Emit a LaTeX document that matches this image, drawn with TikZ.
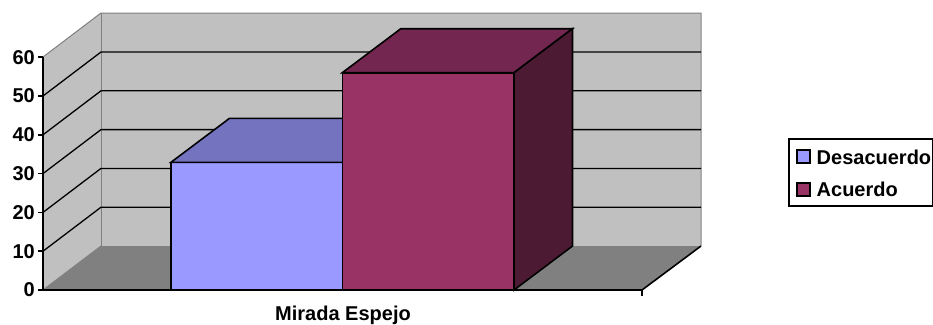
\documentclass[tikz,border=0pt]{standalone}
\usepackage{fontspec}
\setmainfont{Liberation Sans}
\usepackage{xcolor}
\usepackage{tikz}
\usetikzlibrary{positioning,calc}

\definecolor{wallgray}{HTML}{C0C0C0}
\definecolor{floorgray}{HTML}{808080}
\definecolor{desfront}{HTML}{9999FF}
\definecolor{destop}{HTML}{7373BF}
\definecolor{acufront}{HTML}{993366}
\definecolor{acutop}{HTML}{732650}
\definecolor{acuside}{HTML}{4D1A33}

\tikzset{
  lbl/.style={font=\fontsize{20}{24}\selectfont\bfseries, inner sep=0pt},
  barface/.style={draw=black, line width=1.6pt, line join=miter},
  gridline/.style={black, line width=1.3pt},
  walledge/.style={draw=floorgray, line width=1pt},
  swatch/.style={draw=black, line width=1.2pt, minimum size=13pt, inner sep=0pt}
}

\begin{document}
\begin{tikzpicture}[x=1pt, y=-1pt]
    \useasboundingbox (0,0) rectangle (933,324);

    % walls and floor
    \fill[wallgray] (101,13) rectangle (701,246);
    \fill[wallgray] (43,57) -- (101,13) -- (101,246) -- (43,290) -- cycle;
    \fill[floorgray] (43,290) -- (642,290) -- (701,246) -- (101,246) -- cycle;
    \draw[walledge] (43,57) -- (101,13) -- (701,13) -- (701,246);
    \draw[walledge] (101,13) -- (101,246) -- (701,246);
    \draw[walledge] (101,246) -- (43,290);
    \draw[line width=1.6pt] (701,246) -- (642,290);

    \foreach \v in {1,...,5} {
        \draw[gridline] (43,{290-38.8*\v}) -- (101,{246-38.8*\v}) -- (701,{246-38.8*\v});
    }

    % axis
    \draw[line width=1.8pt] (43,57) -- (43,290) -- (642,290) -- (642,296);
    \foreach \v in {0,...,6} {
        \pgfmathtruncatemacro{\val}{10*\v}
        \draw[line width=1.6pt] (38,{290-38.8*\v}) -- (43,{290-38.8*\v});
        \node[lbl, anchor=east] (tick\v) at (35,{290-38.8*\v}) {\val};
    }

    % bars
    \filldraw[barface, fill=desfront] (171,162.3) rectangle (342.3,290);
    \filldraw[barface, fill=destop] (171,162.3) -- ++(58.5,-44) -- (400.8,118.3) -- (342.3,162.3) -- cycle;
    \filldraw[barface, fill=acufront] (342.3,72.7) rectangle (514,290);
    \filldraw[barface, fill=acutop] (342.3,72.7) -- ++(58.5,-44) -- (572.5,28.7) -- (514,72.7) -- cycle;
    \filldraw[barface, fill=acuside] (514,72.7) -- (572.5,28.7) -- (572.5,246) -- (514,290) -- cycle;

    \node[lbl, anchor=base] (cat) at (343,320) {Mirada Espejo};

    % legend
    \draw[line width=1.2pt] (789,139) rectangle (932.4,206);
    \node[swatch, fill=desfront] (swdes) at (803.5,156.5) {};
    \node[swatch, fill=acufront] (swacu) at (803.5,189.5) {};
    \node[lbl, anchor=base west] (legdes) at (816.5,164) {Desacuerdo};
    \node[lbl, anchor=base west] (legacu) at (816.5,196.5) {Acuerdo};
\end{tikzpicture}
\end{document}
